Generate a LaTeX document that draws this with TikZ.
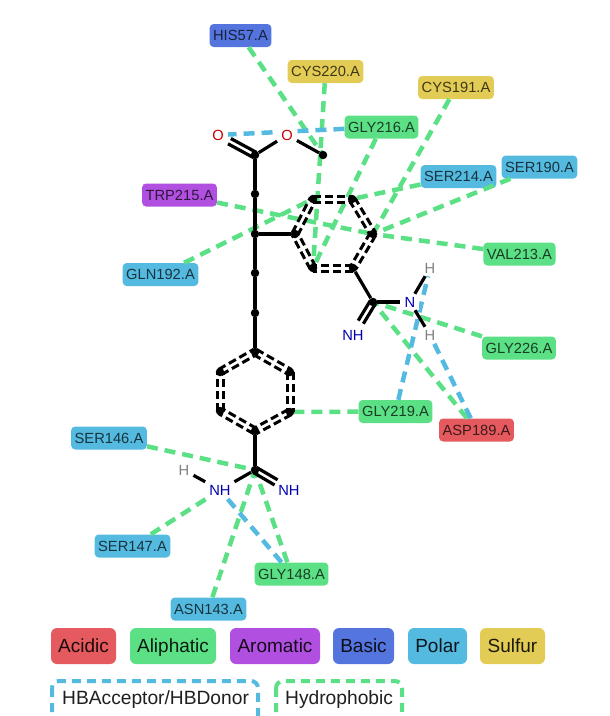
\documentclass[tikz,border=0pt]{standalone}
\usepackage{fontspec}
\setmainfont{Liberation Sans}
\usetikzlibrary{calc}
\definecolor{acidic}{HTML}{E45A5F}
\definecolor{aliph}{HTML}{5BE085}
\definecolor{aroma}{HTML}{B150E0}
\definecolor{basicc}{HTML}{5575DE}
\definecolor{polar}{HTML}{54BAE0}
\definecolor{sulfur}{HTML}{E3CC55}
\tikzset{
  res/.style={rounded corners=4pt,inner xsep=3.5pt,inner ysep=0pt,minimum height=23pt,text=black,text opacity=.72,text height=10.5pt,text depth=0pt,font=\fontsize{14.7}{16}\selectfont},
  leg/.style={rounded corners=6pt,inner xsep=0pt,inner ysep=0pt,minimum height=36pt,text=black,text opacity=.88,text height=13.7pt,text depth=0pt,font=\fontsize{19}{21}\selectfont},
  hyd/.style={draw=aliph,line width=4.5pt,dash pattern=on 11pt off 7pt},
  hbd/.style={draw=polar,line width=4.5pt,dash pattern=on 11pt off 7pt},
  bnd/.style={draw=black,line width=3.2pt},
  aro/.style={draw=black,line width=3pt,dash pattern=on 8pt off 4pt},
  dotatom/.style={circle,fill=black,inner sep=0pt,minimum size=8.5pt},
  txtatom/.style={fill=white,inner xsep=4pt,inner ysep=3pt,font=\fontsize{14.7}{16}\selectfont},
  legbox/.style={rounded corners=7pt,line width=4pt,dash pattern=on 9pt off 6pt}
}
\newcommand{\aromb}[2]{%
  \draw[aro] ($(#1)!3pt!90:(#2)$) -- ($(#2)!3pt!-90:(#1)$);
  \draw[aro] ($(#1)!3pt!-90:(#2)$) -- ($(#2)!3pt!90:(#1)$);}
\newcommand{\dblb}[3]{%
  \draw[bnd,shorten >=#3] ($(#1)!3pt!90:(#2)$) -- ($(#2)!3pt!-90:(#1)$);
  \draw[bnd,shorten >=#3] ($(#1)!3pt!-90:(#2)$) -- ($(#2)!3pt!90:(#1)$);}
\begin{document}
\begin{tikzpicture}[x=1pt,y=-1pt]
\useasboundingbox (0,0) rectangle (610,716);
\clip (0,0) rectangle (610,716);
% residues
\node[res,fill=basicc] (his57) at (240.5,35.5) {HIS57.A};
\node[res,fill=sulfur] (cys220) at (325.5,71.5) {CYS220.A};
\node[res,fill=sulfur] (cys191) at (456,87.5) {CYS191.A};
\node[res,fill=aliph] (gly216) at (381.5,127) {GLY216.A};
\node[res,fill=polar] (ser190) at (539.5,167) {SER190.A};
\node[res,fill=polar] (ser214) at (458.5,176.5) {SER214.A};
\node[res,fill=aroma] (trp215) at (179.5,195) {TRP215.A};
\node[res,fill=aliph] (val213) at (519.5,254) {VAL213.A};
\node[res,fill=polar] (gln192) at (160.5,274.5) {GLN192.A};
\node[res,fill=aliph] (gly226) at (519,348) {GLY226.A};
\node[res,fill=aliph] (gly219) at (395.5,411.5) {GLY219.A};
\node[res,fill=acidic] (asp189) at (476.5,430) {ASP189.A};
\node[res,fill=polar] (ser146) at (109,438) {SER146.A};
\node[res,fill=polar] (ser147) at (132.5,546) {SER147.A};
\node[res,fill=aliph] (gly148) at (291.5,574) {GLY148.A};
\node[res,fill=polar] (asn143) at (208.5,609) {ASN143.A};
% atom positions
\coordinate (cco) at (255,155);
\coordinate (me) at (323,155);
\coordinate (c2) at (255,194);
\coordinate (c3) at (255,234);
\coordinate (c4) at (255,273);
\coordinate (c5) at (255,313);
\coordinate (b1) at (255,352);
\coordinate (b2) at (290,372);
\coordinate (b3) at (290,412);
\coordinate (b4) at (255,431);
\coordinate (b5) at (220,411);
\coordinate (b6) at (220,372);
\coordinate (a1) at (295,234);
\coordinate (a2) at (313,199);
\coordinate (a3) at (352,199);
\coordinate (a4) at (373,234);
\coordinate (a5) at (353,268);
\coordinate (a6) at (313,268);
\coordinate (cn1) at (373,302);
\coordinate (cn2) at (255,470);
% connectors
\draw[hyd] (his57) -- (me);
\draw[hyd] (cys220) -- (a6);
\draw[hyd] (gly216) -- (a6);
\draw[hyd] (cys191) -- (a4);
\draw[hyd] (ser214) -- (a3);
\draw[hyd] (ser190) -- (a4);
\draw[hyd] (trp215) -- (a4);
\draw[hyd] (val213) -- (a4);
\draw[hyd] (gln192) -- (a2);
\draw[hyd] (gly226) -- (cn1);
\draw[hyd] (asp189) -- (cn1);
\draw[hyd] (gly219) -- (b3);
\draw[hyd] (ser146) -- (cn2);
\draw[hyd] (asn143) -- (cn2);
\draw[hyd] (gly148) -- (cn2);
% text atoms (white halo hides the connector ends)
\node[txtatom,text=red!80!black] (o1) at (218,135) {O};
\node[txtatom,text=blue!70!black] (n1) at (410,302) {N};
\node[txtatom,text=gray] (h1) at (430,268) {H};
\node[txtatom,text=gray] (h2) at (430,335) {H};
\node[txtatom,text=blue!70!black] (nh1) at (353,335) {NH};
\node[txtatom,text=blue!70!black] (nh2) at (220,490) {NH};
\node[txtatom,text=blue!70!black] (nh3) at (289,490) {NH};
\node[txtatom,text=gray] (h3) at (184,470) {H};
% connectors ending at text atoms
\draw[hyd] (ser147) -- (nh2);
\draw[hbd] (gly216) -- (o1);
\draw[hbd] (gly219) -- (h1);
\draw[hbd] (asp189) -- (h2);
\draw[hbd] (gly148) -- (nh2);
\node[txtatom,text=red!80!black] (o2) at (287,135) {O};
\node[txtatom,text=blue!70!black] at (n1) {N};
% dots
\foreach \n in {cco,me,c2,c3,c4,c5,b1,b2,b3,b4,b5,b6,a1,a2,a3,a4,a5,a6,cn1,cn2}
  \node[dotatom] (d\n) at (\n) {};
% bonds
\draw[bnd] (dcco) -- (dc2) -- (dc3) -- (dc4) -- (dc5) -- (db1);
\draw[bnd] (dc3) -- (da1);
\draw[bnd] (dcco) -- (o2);
\draw[bnd] (o2) -- (dme);
\dblb{cco}{o1}{13pt}
\draw[bnd] (da5) -- (dcn1);
\draw[bnd] (dcn1) -- (n1);
\draw[bnd] (n1) -- (h1);
\draw[bnd] (n1) -- (h2);
\dblb{cn1}{nh1}{15pt}
\draw[bnd] (db4) -- (dcn2);
\draw[bnd] (dcn2) -- (nh2);
\dblb{cn2}{nh3}{15pt}
\draw[bnd] (nh2) -- (h3);
\aromb{a1}{a2}\aromb{a2}{a3}\aromb{a3}{a4}\aromb{a4}{a5}\aromb{a5}{a6}\aromb{a6}{a1}
\aromb{b1}{b2}\aromb{b2}{b3}\aromb{b3}{b4}\aromb{b4}{b5}\aromb{b5}{b6}\aromb{b6}{b1}
% legend
\node[leg,fill=acidic,minimum width=65pt] (lacidic) at (83.5,646) {Acidic};
\node[leg,fill=aliph,minimum width=86pt] (laliph) at (173,646) {Aliphatic};
\node[leg,fill=aroma,minimum width=90pt] (laroma) at (275,646) {Aromatic};
\node[leg,fill=basicc,minimum width=61pt] (lbasic) at (363.5,646) {Basic};
\node[leg,fill=polar,minimum width=59pt] (lpolar) at (437.5,646) {Polar};
\node[leg,fill=sulfur,minimum width=65pt] (lsulfur) at (512.5,646) {Sulfur};
\draw[legbox,draw=polar] (52,681) rectangle (258,730);
\draw[legbox,draw=aliph] (276,681) rectangle (402,730);
\node[text=black,text opacity=.88,font=\fontsize{19.2}{21}\selectfont,anchor=west,inner sep=0pt] (lhb) at (62,700) {HBAcceptor/HBDonor};
\node[text=black,text opacity=.88,font=\fontsize{19.2}{21}\selectfont,anchor=west,inner sep=0pt] (lhy) at (285,700) {Hydrophobic};
\end{tikzpicture}
\end{document}
